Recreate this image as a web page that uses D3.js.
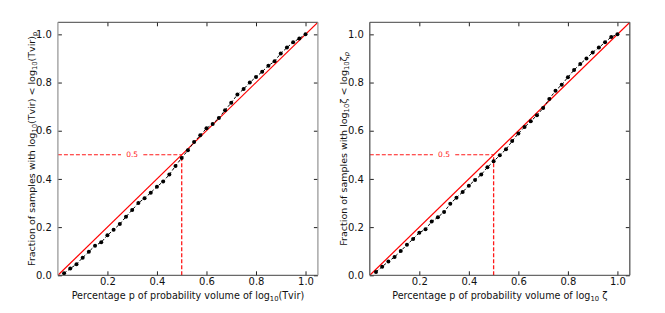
<!DOCTYPE html>
<html><head><meta charset="utf-8">
<script src="https://cdn.jsdelivr.net/npm/d3@7"></script>
<style>body{margin:0;background:#fff}svg{display:block;font-family:"DejaVu Sans",sans-serif}</style>
</head><body><svg id="c" width="665" height="313"></svg>
<script>
const pValues = [0.025,0.05,0.075,0.1,0.125,0.15,0.175,0.2,0.225,0.25,0.275,0.3,0.325,0.35,0.375,0.4,0.425,0.45,0.475,0.5,0.525,0.55,0.575,0.6,0.625,0.65,0.675,0.7,0.725,0.75,0.775,0.8,0.825,0.85,0.875,0.9,0.925,0.95,0.975,1.0];
const fracTvir = [0.008,0.028,0.046,0.073,0.098,0.123,0.137,0.166,0.189,0.213,0.243,0.271,0.300,0.320,0.343,0.368,0.389,0.418,0.454,0.487,0.519,0.553,0.581,0.610,0.628,0.653,0.685,0.716,0.750,0.773,0.800,0.823,0.845,0.870,0.888,0.921,0.945,0.967,0.983,1.0];
const fracZeta = [0.014,0.036,0.057,0.076,0.101,0.127,0.151,0.177,0.191,0.223,0.241,0.263,0.297,0.322,0.346,0.372,0.396,0.418,0.448,0.473,0.498,0.523,0.557,0.589,0.615,0.639,0.664,0.694,0.732,0.766,0.791,0.822,0.852,0.877,0.900,0.925,0.945,0.967,0.989,1.0];
const xTicks = [0.2,0.4,0.6,0.8,1.0];
const yTicks = [0.0,0.2,0.4,0.6,0.8,1.0];
const refLevel = 0.5;

const svg = d3.select("#c");

function panel(left, values, ylabelParts, xlabelParts, spineLight) {
  const W = 260, H = 253, top = 22.3;
  const x = d3.scaleLinear().domain([0,1.05]).range([left, left+W]);
  const y = d3.scaleLinear().domain([0,1.05]).range([top+H, top]);
  const g = svg.append("g");
  const clipId = "clip"+Math.round(left);
  svg.append("clipPath").attr("id",clipId).append("rect")
    .attr("x",left).attr("y",top).attr("width",W).attr("height",H);
  const inner = g.append("g").attr("clip-path",`url(#${clipId})`);

  const red = "#ff1a1a";
  // reference lines
  inner.append("line").attr("x1",x(0)).attr("y1",y(refLevel)).attr("x2",x(0.255)).attr("y2",y(refLevel))
    .attr("stroke",red).attr("stroke-width",1.1).attr("stroke-dasharray","4,2");
  inner.append("line").attr("x1",x(0.345)).attr("y1",y(refLevel)).attr("x2",x(refLevel)).attr("y2",y(refLevel))
    .attr("stroke",red).attr("stroke-width",1.1).attr("stroke-dasharray","4,2");
  inner.append("line").attr("x1",x(refLevel)).attr("y1",y(0)).attr("x2",x(refLevel)).attr("y2",y(refLevel))
    .attr("stroke",red).attr("stroke-width",1.3).attr("stroke-dasharray","4,2");
  g.append("text").attr("x",x(0.3)).attr("y",y(refLevel)).attr("dy","0.35em")
    .attr("text-anchor","middle").attr("font-size",7.5).attr("fill",red).text(refLevel.toFixed(1));

  // diagonal
  inner.append("line").attr("x1",x(0)).attr("y1",y(0)).attr("x2",x(1.05)).attr("y2",y(1.05))
    .attr("stroke","#ff0000").attr("stroke-width",1.2);

  // data
  const data = pValues.map((p,i)=>[p, values[i]]);
  inner.append("path").datum(data)
    .attr("d", d3.line().x(d=>x(d[0])).y(d=>y(d[1])))
    .attr("fill","none").attr("stroke","#000").attr("stroke-width",1).attr("stroke-dasharray","3,2");
  inner.selectAll("circle").data(data).enter().append("circle")
    .attr("cx",d=>x(d[0])).attr("cy",d=>y(d[1])).attr("r",2).attr("fill","#000");

  // axes (ticks inward)
  const tl = 4;
  const axB = d3.axisBottom(x).tickValues(xTicks).tickSizeInner(-tl).tickSizeOuter(0).tickPadding(3).tickFormat(d3.format(".1f"));
  const axT = d3.axisTop(x).tickValues(xTicks).tickSizeInner(-tl).tickSizeOuter(0).tickFormat("");
  const axL = d3.axisLeft(y).tickValues(yTicks).tickSizeInner(-tl).tickSizeOuter(0).tickPadding(6).tickFormat(d3.format(".1f"));
  const axR = d3.axisRight(y).tickValues(yTicks).tickSizeInner(-tl).tickSizeOuter(0).tickFormat("");
  const styleAx = sel => { sel.select(".domain").remove(); sel.selectAll(".tick line").attr("stroke","#222");
    sel.selectAll("text").attr("font-size",10).attr("fill","#111").attr("font-family","DejaVu Sans"); };
  g.append("g").attr("transform",`translate(0,${top+H})`).call(axB).call(styleAx);
  g.append("g").attr("transform",`translate(0,${top})`).call(axT).call(styleAx);
  g.append("g").attr("transform",`translate(${left},0)`).call(axL).call(styleAx);
  g.append("g").attr("transform",`translate(${left+W},0)`).call(axR).call(styleAx);

  // spines
  const sc = "#444", sl = spineLight ? "#9a9a9a" : "#555";
  g.append("line").attr("x1",left).attr("x2",left+W).attr("y1",top).attr("y2",top).attr("stroke",sc);
  g.append("line").attr("x1",left).attr("x2",left+W).attr("y1",top+H).attr("y2",top+H).attr("stroke",sc);
  g.append("line").attr("x1",left).attr("x2",left).attr("y1",top).attr("y2",top+H).attr("stroke",sl).attr("stroke-width",1.3);
  g.append("line").attr("x1",left+W).attr("x2",left+W).attr("y1",top).attr("y2",top+H).attr("stroke",sl).attr("stroke-width",1.3);

  // labels
  function addRich(t, parts){
    parts.forEach(p=>{
      const ts = t.append("tspan").text(p.t);
      if(p.sub){ ts.attr("font-size",6.8).attr("dy", 2.5); }
      else if(p.back){ ts.attr("dy",-2.5); }
      if(p.it) ts.attr("font-style","italic");
    });
  }
  const xl = g.append("text").attr("x",left+W/2).attr("y",298.5).attr("text-anchor","middle")
    .attr("font-size",9.6).attr("fill","#111");
  addRich(xl, xlabelParts);
  const yl = g.append("text").attr("transform",`translate(${left-23},${top+H/2}) rotate(-90)`)
    .attr("text-anchor","middle").attr("font-size",9.5).attr("fill","#111");
  addRich(yl, ylabelParts);
}

panel(57.9,
  fracTvir,
  [{t:"Fraction of samples with log"},{t:"10",sub:true},{t:"(Tvir) < log",back:true},{t:"10",sub:true},{t:"(Tvir)",back:true},{t:"p",sub:true}],
  [{t:"Percentage p of probability volume of log"},{t:"10",sub:true},{t:"(Tvir)",back:true}],
  true);
panel(369.8,
  fracZeta,
  [{t:"Fraction of samples with log"},{t:"10",sub:true},{t:"ζ < log",back:true},{t:"10",sub:true},{t:"ζ",back:true},{t:"p",sub:true,it:true}],
  [{t:"Percentage p of probability volume of log"},{t:"10",sub:true},{t:" ζ",back:true}],
  false);
</script></body></html>
